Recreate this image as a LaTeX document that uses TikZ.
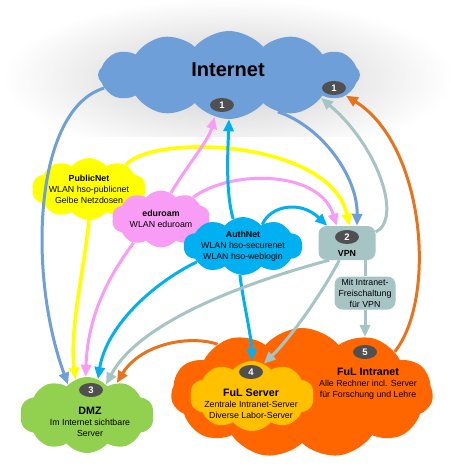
\documentclass[tikz,border=0pt]{standalone}
\usepackage{fontspec}
\setmainfont{Liberation Sans}
\usepackage{tikz}
\usetikzlibrary{positioning, arrows.meta, shapes.symbols, shapes.geometric}

\definecolor{inetblue}{HTML}{6F9FD8}
\definecolor{pubyellow}{HTML}{FFFF00}
\definecolor{edupink}{HTML}{F99CF5}
\definecolor{authcyan}{HTML}{00B0F0}
\definecolor{vpngrey}{HTML}{A7C4C4}
\definecolor{dmzgreen}{HTML}{92D050}
\definecolor{fulorange}{HTML}{FF6600}
\definecolor{srvyellow}{HTML}{FFC000}
\definecolor{arrorange}{HTML}{E8731A}
\definecolor{numgrey}{HTML}{505050}

\newcommand\titel[1]{{\fontsize{10.7}{12}\selectfont\bfseries #1}}

\tikzset{
	wolke/.style={cloud, cloud puffs=#1, cloud puff arc=100, cloud ignores aspect, inner sep=0pt, align=center},
	num/.style={ellipse, fill=numgrey, text=white, font=\fontsize{9.5}{10}\selectfont\bfseries, minimum width=24pt, minimum height=14pt, inner sep=0pt},
	kasten/.style={rounded corners=8pt, fill=vpngrey, align=center, inner sep=0pt},
	pfeil/.style={draw=#1, line width=3pt, -{Triangle[length=12pt, width=10pt]}},
	txt/.style={align=center, inner sep=0pt},
}

\begin{document}
\begin{tikzpicture}[x=1pt, y=-1pt, font=\fontsize{8.8}{11}\selectfont]
\useasboundingbox (0,0) rectangle (450,470);
\shade[inner color=gray!40, outer color=white] (228,78) ellipse (225 and 80);
\shade[left color=white, middle color=gray!45, right color=white] (8,138) rectangle (442,470);

\node[wolke=12, fill=inetblue, minimum width=262pt, minimum height=88pt] (inet) at (229,75) {};
\node[txt, font=\fontsize{20}{24}\selectfont\bfseries] (inettxt) at (228,70) {Internet};
\node[wolke=10, fill=pubyellow, minimum width=106pt, minimum height=62pt] (pub) at (89,189) {\textbf{PublicNet}\\WLAN hso-publicnet\\Gelbe Netzdosen};
\node[wolke=10, fill=edupink, minimum width=98pt, minimum height=57pt] (edu) at (161,219) {\textbf{eduroam}\\WLAN eduroam};
\node[wolke=10, fill=authcyan, minimum width=106pt, minimum height=58pt] (auth) at (243,246) {\textbf{AuthNet}\\WLAN hso-securenet\\WLAN hso-weblogin};
\node[kasten, minimum width=57pt, minimum height=34pt] (vpn) at (347,243) {};
\node[txt, font=\fontsize{8.8}{11}\selectfont\bfseries] (vpntxt) at (347,253) {VPN};
\node[kasten, minimum width=61pt, minimum height=33pt] (frei) at (365,293) {Mit Intranet-\\Freischaltung\\für VPN};
\node[wolke=10, fill=dmzgreen, minimum width=134pt, minimum height=76pt] (dmz) at (87,415) {};
\node[txt] (dmztxt) at (90,422) {\titel{DMZ}\\Im Internet sichtbare\\Server};
\node[wolke=11, fill=fulorange, minimum width=262pt, minimum height=130pt] (intra) at (302,393) {};
\node[txt] (intratxt) at (368,384) {\titel{FuL Intranet}\\Alle Rechner incl. Server\\für Forschung und Lehre};
\node[wolke=10, fill=srvyellow, minimum width=124pt, minimum height=70pt] (srv) at (252,396) {};
\node[txt] (srvtxt) at (251,404) {\titel{FuL Server}\\Zentrale Intranet-Server\\Diverse Labor-Server};
\foreach \b/\x/\y/\n in {n1/222/105/1, n1r/334/88/1, n2/347/237/2, n3/91/390/3, n4/251/372/4, n5/365/352/5}
	\node[num] (\b) at (\x,\y) {\n};

\draw[pfeil=inetblue] (inet.186) .. controls +(-70,21) and +(-41,-112) .. (dmz.122);
\draw[pfeil=inetblue] (inet.323) .. controls +(45,15) and +(1,-48) .. (vpn.60);
\draw[pfeil=pubyellow, line width=3.6pt] (pub.270) .. controls +(-5,51) and +(-6,-51) .. (dmz.108);
\draw[pfeil=pubyellow, line width=3.6pt] (pub.33) .. controls +(27,-32) and +(-19,-86) .. (vpn.82);
\draw[pfeil=edupink] (edu.69) .. controls +(15,-26) and +(-6,24) .. (inet.251);
\draw[pfeil=edupink] (edu.34) .. controls +(38,-28) and +(-17,-56) .. (vpn.121);
\draw[pfeil=edupink] (edu.221) .. controls +(-25,33) and +(2,-61) .. (dmz.92);
\draw[pfeil=authcyan] (auth.110) .. controls +(-8,-28) and +(-1,29) .. (inet.270);
\draw[pfeil=authcyan] (auth.48) .. controls +(8,-19) and +(-27,-26) .. (vpn.139);
\draw[pfeil=authcyan] (auth.199) .. controls +(-47,23) and +(8,-51) .. (dmz.73);
\draw[pfeil=authcyan] (auth.264) .. controls +(3,26) and +(-1,-28) .. (srv.north);
\draw[pfeil=vpngrey] (vpn.21) .. controls +(27,-13) and +(57,48) .. (inet.346);
\draw[pfeil=vpngrey] (vpn.224) .. controls +(-90,24) and +(32,-61) .. (dmz.58);
\draw[pfeil=vpngrey] (vpn.246) .. controls +(-20,38) and +(24,-23) .. (srv.70);
\draw[vpngrey, line width=3pt] (vpn.south -| frei.north) -- (frei.north);
\draw[pfeil=vpngrey] (frei.south) -- (frei.south |- intra.42);
\draw[pfeil=arrorange] (intra.24) .. controls +(42,-52) and +(80,50) .. (inet.350);
\draw[pfeil=arrorange] (intra.150) .. controls +(-30,-10) and +(23,-38) .. (dmz.47);
\end{tikzpicture}
\end{document}
